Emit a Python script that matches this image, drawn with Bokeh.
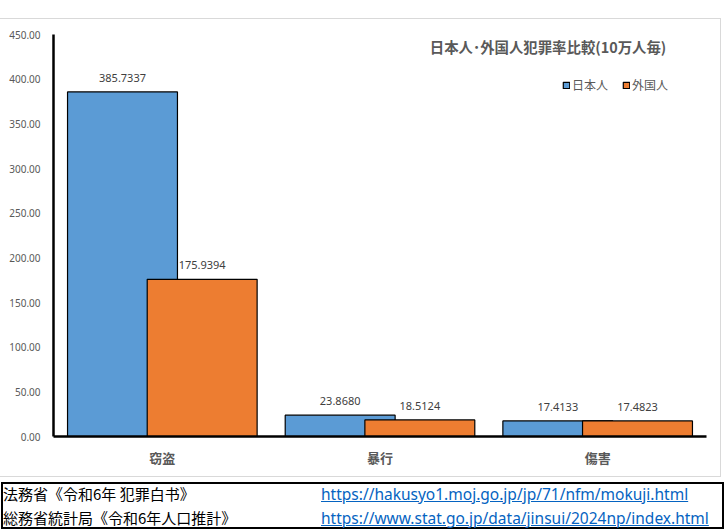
from bokeh.plotting import figure
from bokeh.models import (ColumnDataSource, FactorRange, Range1d, LabelSet, Label, Legend,
                          LegendItem, NumeralTickFormatter, Div, FixedTicker)
from bokeh.transform import dodge
from bokeh.layouts import column, row
from bokeh.embed import file_html
from bokeh.resources import INLINE
from bokeh.core.properties import value

# ---- data ----
categories = ["窃盗", "暴行", "傷害"]
japanese = [385.7337, 23.8680, 17.4133]
foreign = [175.9394, 18.5124, 17.4823]
series_names = ["日本人", "外国人"]
y_ticks = [0, 50, 100, 150, 200, 250, 300, 350, 400, 450]
chart_title = "日本人･外国人犯罪率比較(10万人毎)"
source_names = ["法務省《令和6年 犯罪白书》", "総務省統計局《令和6年人口推計》"]
source_urls = ["https://hakusyo1.moj.go.jp/jp/71/nfm/mokuji.html",
               "https://www.stat.go.jp/data/jinsui/2024np/index.html"]

BLUE = "#5B9BD5"
ORANGE = "#ED7D31"
GRAY = "#595959"
BORDER = "#d9d9d9"
CJK = "Noto Sans CJK JP"

src = ColumnDataSource(dict(
    cat=categories,
    jp=japanese,
    fr=foreign,
    jp_label=[f"{v:.4f}" for v in japanese],
    fr_label=[f"{v:.4f}" for v in foreign],
))

p = figure(x_range=FactorRange(*categories, range_padding=0),
           y_range=Range1d(0, 450),
           width=720, height=457,
           output_backend="svg", toolbar_location=None,
           min_border_left=53, min_border_right=14,
           min_border_top=15, min_border_bottom=40)
p.outline_line_color = None
p.grid.visible = False

off = 0.183
bw = 0.505
r1 = p.vbar(x=dodge("cat", -off, range=p.x_range), top="jp", width=bw, source=src,
            fill_color=BLUE, line_color="black", line_width=1.2)
r2 = p.vbar(x=dodge("cat", off, range=p.x_range), top="fr", width=bw, source=src,
            fill_color=ORANGE, line_color="black", line_width=1.2)

for col, lab, o in (("jp", "jp_label", -off), ("fr", "fr_label", off)):
    p.add_layout(LabelSet(x=dodge("cat", o, range=p.x_range), y=col, text=lab, source=src,
                          text_align="center", text_baseline="bottom", y_offset=10,
                          text_font_size="11px", text_color="#404040",
                          text_font=value("Noto Sans")))

# axes
p.yaxis.ticker = FixedTicker(ticks=y_ticks)
p.yaxis.formatter = NumeralTickFormatter(format="0.00")
for ax in (p.xaxis, p.yaxis):
    ax.axis_line_color = "black"
    ax.axis_line_width = 2.5
    ax.major_tick_line_color = None
    ax.minor_tick_line_color = None
    ax.major_label_text_color = GRAY
p.yaxis.major_label_text_font = "Noto Sans"
p.yaxis.major_label_text_font_size = "10px"
p.yaxis.major_label_standoff = 7
p.xaxis.major_label_text_font = CJK
p.xaxis.major_label_text_font_size = "13px"
p.xaxis.major_label_standoff = 5
p.xaxis.major_label_text_font_style = "bold"

# title inside plot area
p.add_layout(Label(x=2.272, y=436.6, text=chart_title, text_align="center",
                   text_baseline="middle", text_font=CJK, text_font_size="14.4px",
                   text_font_style="bold", text_color=GRAY))

legend = Legend(items=[LegendItem(label=series_names[0], renderers=[r1]),
                       LegendItem(label=series_names[1], renderers=[r2])],
                orientation="horizontal", location=(509, 343),
                glyph_width=8, glyph_height=8, label_height=12, label_standoff=2,
                spacing=14, padding=0, margin=0, border_line_color=None,
                background_fill_alpha=0, label_text_font=CJK,
                label_text_font_size="12px", label_text_color=GRAY)
p.add_layout(legend)

# light gray chart-area border pieces
top_div = Div(text=f'<div style="position:relative;width:725px;height:19px;">'
                   f'<div style="position:absolute;left:0;top:18px;width:721px;height:1px;background:{BORDER};"></div></div>',
              width=725, height=19, margin=0)
right_div = Div(text=f'<div style="position:relative;width:5px;height:457px;">'
                     f'<div style="position:absolute;left:0;top:0;width:1px;height:458px;background:{BORDER};"></div></div>',
                width=5, height=457, margin=0)

rows = []
for i, (name, url) in enumerate(zip(source_names, source_urls)):
    top = 8 + i * 24
    rows.append(f'<div style="position:absolute;left:3px;top:{top}px;line-height:20px;color:#000;white-space:nowrap;">{name}</div>'
                f'<a href="{url}" style="position:absolute;left:321px;top:{top}px;line-height:20px;font-size:15.5px;'
                f'color:#0563C1;text-decoration:underline;white-space:nowrap;font-family:\'Noto Sans\';">{url}</a>')
html = (f'<div style="position:relative;width:725px;height:54px;font-family:\'Noto Sans CJK JP\';font-size:15px;">'
        f'<div style="position:absolute;left:0;top:0;width:721px;height:1px;background:{BORDER};"></div>'
        '<div style="position:absolute;left:1px;top:6px;width:723px;height:47px;border:2px solid #000;box-sizing:border-box;"></div>'
        + "".join(rows) + '</div>')
bottom_div = Div(text=html, width=725, height=54, margin=0)

layout = column(top_div, row(p, right_div, spacing=0), bottom_div, spacing=0)
open("out.html", "w").write(file_html(layout, INLINE))
